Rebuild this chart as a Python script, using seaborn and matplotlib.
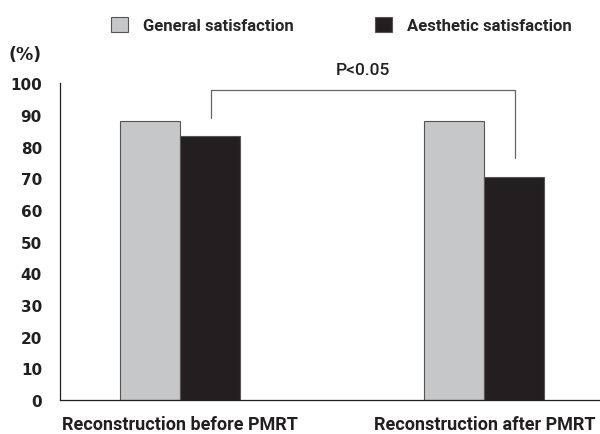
import pandas as pd
import seaborn as sns
import matplotlib.pyplot as plt
from matplotlib.patches import Patch

# data
groups = ['Reconstruction before PMRT', 'Reconstruction after PMRT']
series = ['General satisfaction', 'Aesthetic satisfaction']
general = [88.1, 88.1]
aesthetic = [83.4, 70.4]
yticks = list(range(0, 101, 10))
p_label = 'P<0.05'

df = pd.DataFrame({
    'group': groups * 2,
    'series': [series[0]] * 2 + [series[1]] * 2,
    'value': general + aesthetic,
})

colors = {series[0]: '#c6c7c9', series[1]: '#231f20'}

sns.set_style('white')
plt.rcParams['font.family'] = ['Roboto', 'DejaVu Sans']

fig = plt.figure(figsize=(6, 4.35), dpi=100)
ax = fig.add_axes([0.1, 0.078, 0.9, 0.728])

sns.barplot(data=df, x='group', y='value', hue='series', palette=colors,
            width=0.395, gap=0, edgecolor='#555555', linewidth=0.8,
            saturation=1, legend=False, ax=ax)

ax.set_xlim(-0.395, 1.38)
ax.set_ylim(0, 100)
ax.set_yticks(yticks)
ax.set_xlabel('')
ax.set_ylabel('')
for s in ['top', 'right']:
    ax.spines[s].set_visible(False)
for s in ['left', 'bottom']:
    ax.spines[s].set_color('#231f20')
    ax.spines[s].set_linewidth(0.9)

ax.tick_params(axis='y', direction='in', length=7.5, width=0.9, color='#231f20', pad=13)
ax.tick_params(axis='x', length=0, pad=11)
for lbl in ax.get_yticklabels():
    lbl.set_fontfamily('DejaVu Sans')
    lbl.set_fontweight('bold')
    lbl.set_fontsize(11)
    lbl.set_color('#231f20')
for lbl in ax.get_xticklabels():
    lbl.set_fontweight('bold')
    lbl.set_fontsize(13)
    lbl.set_color('#231f20')

# significance bracket
bx = [0.1, 0.1, 1.1, 1.1]
by = [89.0, 97.9, 97.9, 76.3]
ax.plot(bx, by, color='#666666', lw=0.9, clip_on=False)
ax.text(0.6, 104.4, p_label, ha='center', va='center', fontsize=12.5,
        fontweight='medium', color='#231f20', clip_on=False)

fig.text(8 / 600, 1 - 55 / 435, '(%)', ha='left', va='center', fontsize=12.5,
         fontfamily='DejaVu Sans', fontweight='bold', color='#231f20')

handles = [Patch(facecolor=colors[s], edgecolor='#555555', linewidth=0.8, label=s)
           for s in series]
fig.legend(handles=handles, loc='center', bbox_to_anchor=(0.569, 0.94), ncol=2,
           frameon=False, handlelength=1.0, handleheight=1.0, handletextpad=0.9,
           columnspacing=4.9, prop={'weight': 'bold', 'size': 12})

fig.savefig('out.png', dpi=100)
